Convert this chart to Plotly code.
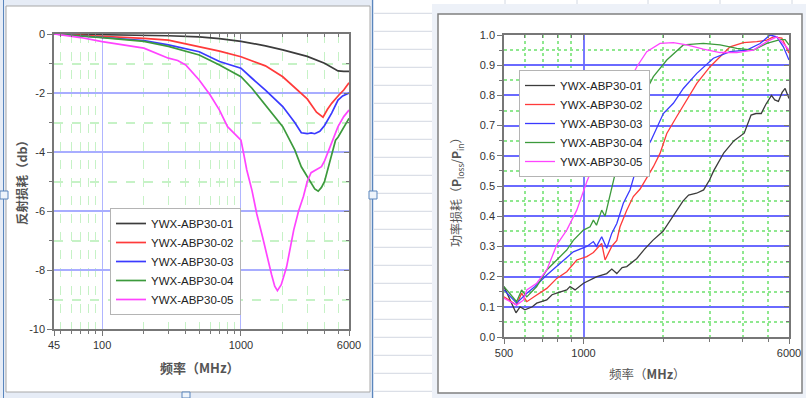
import math
import plotly.graph_objects as go

W, H = 806, 398

names = ["YWX-ABP30-01", "YWX-ABP30-02", "YWX-ABP30-03", "YWX-ABP30-04", "YWX-ABP30-05"]
colors = ["#3c3c3c", "#ff3a3a", "#3a3aff", "#3c9a3c", "#ff44ff"]

# ---------------- left chart: reflection loss (dB) ----------------
rl_f_01 = [45, 70, 100, 200, 300, 500, 700, 1000, 1500, 2000, 3000, 4000, 5000, 5500, 6000]
rl_v_01 = [0, -0.01, -0.02, -0.04, -0.06, -0.10, -0.16, -0.25, -0.40, -0.54, -0.76, -0.99, -1.25, -1.27, -1.27]

rl_f_02 = [45, 70, 100, 200, 300, 500, 700, 1000, 1500, 2000, 2700, 3000, 3500, 3900, 4200, 4500, 5000, 5500, 6000]
rl_v_02 = [0, -0.04, -0.08, -0.15, -0.21, -0.42, -0.58, -0.77, -1.08, -1.45, -2.0, -2.2, -2.65, -2.82, -2.55, -2.35, -2.1, -1.9, -1.65]

rl_f_03 = [45, 100, 200, 300, 500, 700, 1000, 1200, 1500, 2000, 2440, 2720, 3000, 3200, 3400, 3700, 4000, 4500, 5000, 5400, 6000]
rl_v_03 = [0, -0.12, -0.22, -0.37, -0.60, -0.93, -1.16, -1.50, -1.90, -2.46, -3.0, -3.35, -3.38, -3.35, -3.38, -3.30, -3.10, -2.68, -2.24, -2.10, -2.0]

rl_f_04 = [45, 100, 200, 300, 500, 700, 1000, 1200, 2000, 2440, 2720, 3000, 3400, 3600, 3800, 4000, 4500, 4800, 5000, 5500, 6000]
rl_v_04 = [0, -0.12, -0.25, -0.42, -0.71, -1.05, -1.45, -1.84, -3.14, -3.93, -4.5, -4.85, -5.25, -5.33, -5.2, -5.0, -4.04, -3.6, -3.5, -3.14, -2.86]

rl_f_05 = [45, 70, 100, 200, 300, 350, 400, 500, 600, 700, 800, 900, 1000, 1050, 1100, 1200, 1300, 1434, 1550, 1660, 1750, 1830,
           1950, 2130, 2400, 2600, 2820, 3000, 3200, 3500, 3800, 4000, 4500, 5000, 5500, 6000]
rl_v_05 = [0, -0.12, -0.26, -0.48, -0.82, -0.90, -1.05, -1.56, -2.07, -2.58, -3.14, -3.40, -3.60, -4.1, -4.6, -5.3, -6.1, -6.9, -7.6, -8.15, -8.55, -8.7,
           -8.5, -7.9, -6.64, -6.0, -5.5, -5.0, -4.7, -4.6, -4.5, -4.3, -3.7, -3.14, -2.8, -2.58]

rl_x_ticks = [45, 100, 1000, 6000]
rl_x_minor = [50, 60, 70, 80, 90, 200, 300, 400, 500, 600, 700, 800, 900, 2000, 3000, 4000, 5000]
rl_y_ticks = [-10, -8, -6, -4, -2, 0]
rl_y_minor = [-9, -7, -5, -3, -1]

# ---------------- right chart: power loss ratio ----------------
pl_f_01 = [500, 530, 555, 575, 600, 640, 665, 726, 760, 791, 830, 864, 889, 929, 1000, 1060, 1124, 1224, 1280, 1337, 1400, 1458, 1520, 1592,
           1700, 1830, 2000, 2180, 2380, 2500, 2680, 2850, 3000, 3110, 3400, 3715, 4060, 4310, 4500, 4710, 4900, 5150, 5300, 5470, 5650, 5800, 6000]
pl_v_01 = [0.167, 0.12, 0.08, 0.10, 0.09, 0.10, 0.112, 0.123, 0.14, 0.145, 0.15, 0.156, 0.167, 0.156, 0.178, 0.19, 0.20, 0.21, 0.225, 0.21, 0.23, 0.233, 0.245, 0.26,
           0.29, 0.32, 0.35, 0.40, 0.45, 0.47, 0.476, 0.487, 0.52, 0.55, 0.61, 0.65, 0.675, 0.735, 0.74, 0.74, 0.77, 0.80, 0.785, 0.78, 0.81, 0.823, 0.79]

pl_f_02 = [500, 558, 583, 610, 665, 726, 792, 864, 943, 1029, 1090, 1172, 1207, 1279, 1337, 1375, 1458, 1544, 1638, 1839, 1949, 2067, 2255, 2460,
           2685, 3015, 3290, 3589, 4031, 4532, 4943, 5237, 5636, 6000]
pl_v_02 = [0.133, 0.106, 0.145, 0.117, 0.139, 0.161, 0.194, 0.216, 0.255, 0.266, 0.28, 0.31, 0.255, 0.30, 0.32, 0.365, 0.42, 0.465, 0.49, 0.564, 0.608, 0.674, 0.73, 0.785,
           0.84, 0.895, 0.928, 0.961, 0.975, 0.978, 0.983, 0.994, 0.99, 0.94]

pl_f_03 = [500, 558, 610, 655, 726, 815, 915, 1029, 1090, 1120, 1172, 1225, 1279, 1337, 1415, 1500, 1592, 1686, 1800, 2006, 2189, 2388, 2685, 3103,
           3589, 4152, 4664, 5088, 5394, 5713, 6000]
pl_v_03 = [0.156, 0.112, 0.145, 0.167, 0.205, 0.244, 0.282, 0.30, 0.316, 0.30, 0.332, 0.294, 0.343, 0.376, 0.443, 0.487, 0.564, 0.608, 0.65, 0.74, 0.774, 0.823, 0.873, 0.923,
           0.945, 0.95, 0.972, 1.0, 0.994, 0.961, 0.917]

pl_f_04 = [500, 558, 583, 610, 665, 726, 792, 864, 915, 999, 1059, 1090, 1120, 1172, 1207, 1279, 1337, 1450, 1600, 1839, 2067, 2388, 2843, 3290,
           3806, 4399, 4943, 5551, 5799, 6000]
pl_v_04 = [0.167, 0.117, 0.156, 0.133, 0.167, 0.222, 0.255, 0.288, 0.32, 0.354, 0.365, 0.387, 0.37, 0.42, 0.40, 0.498, 0.564, 0.65, 0.76, 0.862, 0.917, 0.967, 0.972, 0.967,
           0.956, 0.95, 0.972, 0.985, 0.985, 0.967]

pl_f_05 = [500, 558, 592, 610, 665, 726, 792, 864, 943, 1005, 1029, 1155, 1300, 1458, 1592, 1736, 1949, 2189, 2460, 2843, 3290, 3806, 4399, 4943,
           5394, 5713, 6000]
pl_v_05 = [0.128, 0.106, 0.122, 0.156, 0.178, 0.222, 0.305, 0.354, 0.42, 0.487, 0.514, 0.62, 0.72, 0.83, 0.895, 0.945, 0.972, 0.975, 0.967, 0.953, 0.942, 0.942, 0.95, 0.978,
           0.994, 0.972, 0.95]

pl_x_ticks = [500, 1000, 6000]
pl_x_minor = [600, 700, 800, 900, 2000, 3000, 4000, 5000]
pl_y_ticks = [0.0, 0.1, 0.2, 0.3, 0.4, 0.5, 0.6, 0.7, 0.8, 0.9, 1.0]
pl_y_minor = [0.05, 0.15, 0.25, 0.35, 0.45, 0.55, 0.65, 0.75, 0.85, 0.95]


def px(x):
    return x / W


def py(y):
    return 1 - y / H


rl_series = [(rl_f_01, rl_v_01), (rl_f_02, rl_v_02), (rl_f_03, rl_v_03), (rl_f_04, rl_v_04), (rl_f_05, rl_v_05)]
pl_series = [(pl_f_01, pl_v_01), (pl_f_02, pl_v_02), (pl_f_03, pl_v_03), (pl_f_04, pl_v_04), (pl_f_05, pl_v_05)]

fig = go.Figure()
for (f, v), n, c in zip(rl_series, names, colors):
    fig.add_trace(go.Scatter(x=f, y=v, mode="lines", name=n, line=dict(color=c, width=1.7),
                             xaxis="x", yaxis="y", legend="legend"))
for (f, v), n, c in zip(pl_series, names, colors):
    fig.add_trace(go.Scatter(x=f, y=v, mode="lines", name=n, line=dict(color=c, width=1.3),
                             xaxis="x2", yaxis="y2", legend="legend2"))
# invisible helpers so the inward-tick overlay axes get drawn
for xa, ya in [("x3", "y"), ("x", "y3"), ("x4", "y2"), ("x2", "y4")]:
    fig.add_trace(go.Scatter(x=[None], y=[None], xaxis=xa, yaxis=ya, showlegend=False, hoverinfo="skip"))

tickfont = dict(family="Arial, Liberation Sans, sans-serif", size=11, color="#333333")
frame = "#777777"
green_l = "#c6f2c6"
green_r = "#8fe88f"

common = dict(showline=True, linecolor=frame, linewidth=1.5, zeroline=False, tickfont=tickfont,
              ticks="outside", tickcolor=frame, ticklen=5, automargin=False)
overlay = dict(showticklabels=False, showgrid=False, zeroline=False, ticks="inside", ticklen=5,
               tickcolor=frame, automargin=False, showline=False)

fig.update_layout(
    width=W, height=H, margin=dict(l=0, r=0, t=0, b=0, autoexpand=False),
    paper_bgcolor="white", plot_bgcolor="white", showlegend=True,
    xaxis=dict(domain=[px(54), px(349)], anchor="y", type="log", range=[math.log10(45), math.log10(6000)],
               tickmode="array", tickvals=rl_x_ticks, ticktext=[str(t) for t in rl_x_ticks],
               showgrid=True, gridcolor="#b0b5ff", gridwidth=1.3, mirror=True,
               minor=dict(tickvals=rl_x_minor, showgrid=True, gridcolor=green_l, griddash="dash",
                          ticks="outside", ticklen=3, tickcolor=frame), **common),
    yaxis=dict(domain=[py(329), py(34)], anchor="x", range=[-10, 0],
               tickmode="array", tickvals=rl_y_ticks, ticktext=[str(t) for t in rl_y_ticks],
               showgrid=True, gridcolor="#a8adff", gridwidth=1.5, mirror=True,
               minor=dict(tickvals=rl_y_minor, showgrid=True, gridcolor=green_l, griddash="dash",
                          ticks="outside", ticklen=3, tickcolor=frame), **common),
    xaxis3=dict(overlaying="x", anchor="y", side="top", type="log", range=[math.log10(45), math.log10(6000)],
                tickmode="array", tickvals=[100, 1000],
                minor=dict(tickvals=rl_x_minor, ticks="inside", ticklen=3, tickcolor=frame, showgrid=False), **overlay),
    yaxis3=dict(overlaying="y", anchor="x", side="right", range=[-10, 0],
                tickmode="array", tickvals=rl_y_ticks,
                minor=dict(tickvals=rl_y_minor, ticks="inside", ticklen=3, tickcolor=frame, showgrid=False), **overlay),
    xaxis2=dict(domain=[px(504), px(789)], anchor="y2", type="log", range=[math.log10(500), math.log10(6000)],
                tickmode="array", tickvals=pl_x_ticks, ticktext=[str(t) for t in pl_x_ticks],
                showgrid=True, gridcolor="#7878ff", gridwidth=1.5, mirror=True,
                minor=dict(tickvals=pl_x_minor, showgrid=True, gridcolor=green_r, griddash="dot", gridwidth=1.5,
                           ticks="outside", ticklen=3, tickcolor=frame), **common),
    yaxis2=dict(domain=[py(337), py(35)], anchor="x2", range=[0, 1],
                tickmode="array", tickvals=pl_y_ticks, ticktext=["%.1f" % t for t in pl_y_ticks],
                showgrid=True, gridcolor="#6a6aff", gridwidth=2, mirror=True,
                minor=dict(tickvals=pl_y_minor, showgrid=True, gridcolor=green_r, griddash="dot", gridwidth=1.5,
                           ticks="outside", ticklen=3, tickcolor=frame), **common),
    xaxis4=dict(overlaying="x2", anchor="y2", side="top", type="log", range=[math.log10(500), math.log10(6000)],
                tickmode="array", tickvals=[1000],
                minor=dict(tickvals=pl_x_minor, ticks="inside", ticklen=3, tickcolor=frame, showgrid=False), **overlay),
    yaxis4=dict(overlaying="y2", anchor="x2", side="right", range=[0, 1],
                tickmode="array", tickvals=pl_y_ticks,
                minor=dict(tickvals=pl_y_minor, ticks="inside", ticklen=3, tickcolor=frame, showgrid=False), **overlay),
    legend=dict(x=px(110), y=py(208), xanchor="left", yanchor="top", bgcolor="white",
                bordercolor="#b4b4b4", borderwidth=1,
                font=dict(family="Arial, Liberation Sans, sans-serif", size=11.5, color="#222222")),
    legend2=dict(x=px(519), y=py(70), xanchor="left", yanchor="top", bgcolor="white",
                 bordercolor="#b4b4b4", borderwidth=1,
                 font=dict(family="Arial, Liberation Sans, sans-serif", size=11.5, color="#222222")),
)

cjk = "Noto Sans CJK SC, sans-serif"
ann = dict(xref="paper", yref="paper", showarrow=False, xanchor="center", yanchor="middle")
fig.add_annotation(x=px(22), y=py(180), text="<b>反射损耗（db）</b>", textangle=-90,
                   font=dict(family=cjk, size=12.5, color="#555555"), **ann)
fig.add_annotation(x=px(200), y=py(367), text="<b>频率（MHz）</b>",
                   font=dict(family=cjk, size=13, color="#555555"), **ann)
fig.add_annotation(x=px(456), y=py(189), text="功率损耗（<b>P</b><sub>loss</sub>/<b>P</b><sub>in</sub>）",
                   textangle=-90, font=dict(family=cjk, size=12, color="#555555"), **ann)
fig.add_annotation(x=px(647), y=py(373), text="频率（<b>MHz</b>）",
                   font=dict(family=cjk, size=12.5, color="#555555"), **ann)

# ---------- decorative spreadsheet background ----------
shapes = []


def rect(x0, y0, x1, y1, fill=None, line=None, lw=1):
    shapes.append(dict(type="rect", xref="paper", yref="paper", x0=px(x0), x1=px(x1), y0=py(y1), y1=py(y0),
                       fillcolor=fill if fill else "rgba(0,0,0,0)",
                       line=dict(color=line if line else "rgba(0,0,0,0)", width=lw if line else 0), layer="below"))


def hline(x0, x1, y, color, lw=1):
    shapes.append(dict(type="line", xref="paper", yref="paper", x0=px(x0), x1=px(x1), y0=py(y), y1=py(y),
                       line=dict(color=color, width=lw), layer="below"))


def vline(x, y0, y1, color, lw=1):
    shapes.append(dict(type="line", xref="paper", yref="paper", x0=px(x), x1=px(x), y0=py(y0), y1=py(y1),
                       line=dict(color=color, width=lw), layer="below"))


rect(0, 0, 374, 398, fill="#e6ecf6")
rect(6, 6, 370, 392, fill="white", line="#a8a8a8", lw=1)
vline(3.5, 0, 398, "#5a86bd", 1)
vline(372.5, 0, 398, "#5a86bd", 1.2)
rect(374, 0, 432, 398, fill="white")
yy = 13.3
while yy < H:
    hline(374, 432, yy, "#d2d8e2", 1)
    yy += 18
rect(432, 0, 806, 398, fill="#edf1f8")
rect(432, 0, 806, 4, fill="white")
for xv in [505, 577, 648, 720, 792]:
    vline(xv, 0, 4, "#d2d8e2", 1)
rect(438, 14, 802, 393, fill="white", line="#808080", lw=1.5)
# selection handles of the left picture
rect(0, 191, 8, 199, fill="#eef4fb", line="#5a86bd", lw=1)
rect(369, 191, 377, 199, fill="#eef4fb", line="#5a86bd", lw=1)
rect(182, 392, 190, 398, fill="#eef4fb", line="#5a86bd", lw=1)

fig.update_layout(shapes=shapes)

fig.write_html("out.html", config={"displayModeBar": False},
               post_script="document.body.style.margin='0';document.body.style.padding='0';"
                           "document.body.style.overflow='hidden';")
